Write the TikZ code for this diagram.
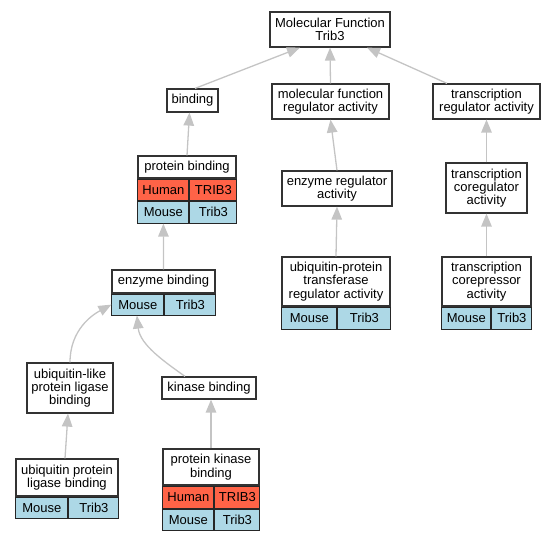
\documentclass[tikz,border=0pt]{standalone}
\usepackage{fontspec}
\setmainfont{Liberation Sans}
\usepackage{xcolor}
\usetikzlibrary{arrows.meta}
\definecolor{humancol}{HTML}{FF6347}
\definecolor{mousecol}{HTML}{ADD8E6}
\definecolor{edgecol}{HTML}{C4C4C4}
\tikzset{
  term/.style={draw=black!80, fill=white, line width=1.2pt, align=center, inner sep=0pt},
  cell/.style={draw=black!85, line width=1pt, inner sep=0pt, anchor=north west},
  human/.style={cell, fill=humancol},
  mouse/.style={cell, fill=mousecol},
  isa/.style={draw=edgecol, line width=1.3pt, -{Triangle[length=13pt,width=10.5pt]}}
}

\begin{document}
\begin{tikzpicture}[x=1pt, y=-1pt, font=\fontsize{13}{13.3}\selectfont]
                \useasboundingbox (0,0) rectangle (556,539);
                % top rows
                \node[term, minimum width=120, minimum height=35] (mf) at (330,29.5) {Molecular Function\\Trib3};
                \node[term, minimum width=51, minimum height=23] (bind) at (192.5,100.5) {binding};
                \node[term, minimum width=117, minimum height=35] (mfra) at (330.5,101.5) {molecular function\\regulator activity};
                \node[term, minimum width=107, minimum height=35] (tra) at (486.5,101.5) {transcription\\regulator activity};
                \node[term, minimum width=110, minimum height=35] (era) at (337,188.5) {enzyme regulator\\activity};
                \node[term, minimum width=81, minimum height=50] (tca) at (486.5,188) {transcription\\coregulator\\activity};
                % protein binding
                \node[term, minimum width=98, minimum height=22] (pb) at (187,167) {protein binding};
                \node[human, minimum width=51, minimum height=21] (pbh) at (pb.south west) {Human};
                \node[human, minimum width=47, minimum height=21] (pbhg) at (pbh.north east) {TRIB3};
                \node[mouse, minimum width=51, minimum height=22] (pbm) at (pbh.south west) {Mouse};
                \node[mouse, minimum width=47, minimum height=22] (pbmg) at (pbm.north east) {Trib3};
                % enzyme binding
                \node[term, minimum width=103, minimum height=23] (eb) at (163.5,281.5) {enzyme binding};
                \node[mouse, minimum width=52, minimum height=21] (ebm) at (eb.south west) {Mouse};
                \node[mouse, minimum width=51, minimum height=21] (ebmg) at (ebm.north east) {Trib3};
                % ubiquitin-protein transferase regulator activity
                \node[term, minimum width=108, minimum height=49] (upt) at (336,281.5) {ubiquitin-protein\\transferase\\regulator activity};
                \node[mouse, minimum width=55, minimum height=22] (uptm) at (upt.south west) {Mouse};
                \node[mouse, minimum width=53, minimum height=22] (uptmg) at (uptm.north east) {Trib3};
                % transcription corepressor activity
                \node[term, minimum width=89, minimum height=49] (tcr) at (486.5,281.5) {transcription\\corepressor\\activity};
                \node[mouse, minimum width=49, minimum height=22] (tcrm) at (tcr.south west) {Mouse};
                \node[mouse, minimum width=40, minimum height=22] (tcrmg) at (tcrm.north east) {Trib3};
                % lower left
                \node[term, minimum width=86, minimum height=50] (ubl) at (70,388) {ubiquitin-like\\protein ligase\\binding};
                \node[term, minimum width=94, minimum height=22] (kb) at (209,388) {kinase binding};
                \node[term, minimum width=102, minimum height=37] (upl) at (67,477.5) {ubiquitin protein\\ligase binding};
                \node[mouse, minimum width=52, minimum height=21] (uplm) at (upl.south west) {Mouse};
                \node[mouse, minimum width=50, minimum height=21] (uplmg) at (uplm.north east) {Trib3};
                \node[term, minimum width=96, minimum height=36] (pkb) at (211,467) {protein kinase\\binding};
                \node[human, minimum width=51, minimum height=22] (pkbh) at (pkb.south west) {Human};
                \node[human, minimum width=45, minimum height=22] (pkbhg) at (pkbh.north east) {TRIB3};
                \node[mouse, minimum width=51, minimum height=21] (pkbm) at (pkbh.south west) {Mouse};
                \node[mouse, minimum width=45, minimum height=21] (pkbmg) at (pkbm.north east) {Trib3};
                % is-a edges
                \draw[isa] ([xshift=2.5pt]bind.north) -- ([xshift=-30pt]mf.south);
                \draw[isa] (mfra.north) -- (mf.south);
                \draw[isa] ([xshift=-39.5pt]tra.north) -- ([xshift=37pt]mf.south);
                \draw[isa] (pb.north) -- ([xshift=-3pt]bind.south);
                \draw[isa] (era.north) -- (mfra.south);
                \draw[isa] (upt.north) -- (era.south);
                \draw[isa] (tca.north) -- (tra.south);
                \draw[isa] (tcr.north) -- (tca.south);
                \draw[isa] (eb.north) -- (pbm.south);
                \draw[isa] (ubl.north) .. controls (70,330) and (92,315) .. (ebm.west);
                \draw[isa] ([xshift=-24pt]kb.north) .. controls (165,362) and (140,345) .. ([xshift=-1pt]ebm.south);
                \draw[isa] ([xshift=-2pt]upl.north) -- ([xshift=-2pt]ubl.south);
                \draw[isa] (pkb.north) -- ([xshift=2pt]kb.south);
            \end{tikzpicture}
\end{document}
